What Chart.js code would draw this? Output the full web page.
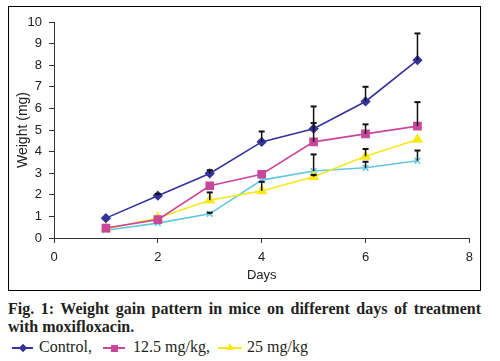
<!DOCTYPE html>
<html>
<head>
<meta charset="utf-8">
<script src="https://cdn.jsdelivr.net/npm/chart.js@4.4.0/dist/chart.umd.min.js"></script>
<style>
  body { margin: 0; background: #fff; width: 500px; height: 361px; overflow: hidden; position: relative; }
  #box { position: absolute; left: 8px; top: 6px; width: 471px; height: 283px; border: 1px solid #000; }
  #caption { position: absolute; left: 8px; top: 300px; width: 473px; font-family: "Liberation Serif", serif;
             font-weight: bold; font-size: 16px; line-height: 18px; color: #231f20; }
  #caption .l1 { display: block; text-align: justify; text-align-last: justify; }
  .leg { position: absolute; top: 338px; font-family: "Liberation Serif", serif; font-size: 16px; color: #231f20; white-space: nowrap; }
  .mk { position: absolute; height: 2px; top: 347px; }
  .mk i { position: absolute; left: 50%; top: 50%; display: block; }
</style>
</head>
<body>
<div id="box"><canvas id="chart" width="471" height="283"></canvas></div>
<div id="caption">
  <span class="l1">Fig. 1: Weight gain pattern in mice on different days of treatment</span>
  <span>with moxifloxacin.</span>
</div>
<div class="mk" style="left:12px;width:21px;background:#333399"><i style="width:6px;height:6px;margin:-3px 0 0 -3px;background:#333399;transform:rotate(45deg)"></i></div>
<div class="leg" style="left:39px">Control,</div>
<div class="mk" style="left:103px;width:22px;background:#c9479b"><i style="width:7px;height:7px;margin:-3.5px 0 0 -3.5px;background:#c9479b"></i></div>
<div class="leg" style="left:133px">12.5 mg/kg,</div>
<div class="mk" style="left:218px;width:24px;background:#f7e81c"><i style="width:0;height:0;margin:-5px 0 0 -4px;border-left:4px solid transparent;border-right:4px solid transparent;border-bottom:7px solid #f7e81c"></i></div>
<div class="leg" style="left:247px">25 mg/kg</div>
<script>
const days = [1, 2, 3, 4, 5, 6, 7];
const xTicks = [0, 2, 4, 6, 8];

const control = [0.92, 1.96, 2.99, 4.45, 5.06, 6.32, 8.23];
const controlErr = [0, 0.08, 0.15, 0.48, 1.03, 0.68, 1.24];

const dose125 = [0.46, 0.85, 2.42, 2.95, 4.45, 4.82, 5.18];
const dose125Err = [0, 0, 0, 0, 0.87, 0.44, 1.11];

const dose25 = [0.42, 0.93, 1.75, 2.18, 2.84, 3.78, 4.56];
const dose25Err = [0, 0, 0.36, 0.42, 0.08, 0.34, 0];

const dose50 = [0.36, 0.69, 1.12, 2.68, 3.1, 3.25, 3.58];
const dose50Err = [0, 0, 0.05, 0, 0.77, 0.28, 0.47];

const seriesVals = [control, dose125, dose25, dose50];
const seriesErr = [controlErr, dose125Err, dose25Err, dose50Err];

const toXY = vals => vals.map((v, i) => ({ x: days[i], y: v }));

// upward-only error bars, drawn with the chart's scales
const errorBars = {
  id: 'errorBars',
  afterDatasetsDraw(chart) {
    const { ctx, scales: { x, y } } = chart;
    ctx.save();
    ctx.strokeStyle = '#111';
    seriesErr.forEach((errs, i) => {
      errs.forEach((e, j) => {
        if (!e) return;
        const px = x.getPixelForValue(days[j]);
        const y0 = y.getPixelForValue(seriesVals[i][j]);
        const y1 = y.getPixelForValue(seriesVals[i][j] + e);
        ctx.lineWidth = 1.5;
        ctx.beginPath();
        ctx.moveTo(px, y0);
        ctx.lineTo(px, y1);
        ctx.stroke();
        ctx.lineWidth = 2;
        ctx.beginPath();
        ctx.moveTo(px - 3, y1);
        ctx.lineTo(px + 3, y1);
        ctx.stroke();
      });
    });
    ctx.restore();
  }
};

const tickFont = { family: 'Liberation Sans, Arial, sans-serif', size: 13 };

new Chart(document.getElementById('chart'), {
  type: 'line',
  data: {
    datasets: [
      { label: 'Control', data: toXY(control), borderColor: '#333399', backgroundColor: '#333399',
        pointStyle: 'rectRot', pointRadius: 4, borderWidth: 1.6 },
      { label: '12.5 mg/kg', data: toXY(dose125), borderColor: '#c9479b', backgroundColor: '#c9479b',
        pointStyle: 'rect', pointRadius: 5, borderWidth: 1.6 },
      { label: '25 mg/kg', data: toXY(dose25), borderColor: '#f7e81c', backgroundColor: '#f7e81c',
        pointStyle: 'triangle', pointRadius: 5, borderWidth: 1.6 },
      { label: '50 mg/kg', data: toXY(dose50), borderColor: '#62c6e0', backgroundColor: '#62c6e0',
        pointStyle: 'crossRot', pointRadius: 4, borderWidth: 1.6 }
    ]
  },
  options: {
    responsive: false,
    animation: false,
    layout: { padding: { top: 15, right: 8, left: 0, bottom: 0 } },
    plugins: { legend: { display: false }, tooltip: { enabled: false } },
    scales: {
      x: {
        type: 'linear', min: 0, max: 8,
        afterBuildTicks: s => { s.ticks = xTicks.map(v => ({ value: v })); },
        afterFit: s => { s.height = 52; },
        grid: { drawOnChartArea: false, tickLength: 5, color: '#333' },
        border: { color: '#333' },
        ticks: { font: tickFont, color: '#222', padding: 7, maxRotation: 0 },
        title: { display: true, text: 'Days', font: tickFont, color: '#222', padding: { top: 0, bottom: 7 } }
      },
      y: {
        min: 0, max: 10,
        ticks: { stepSize: 1, font: tickFont, color: '#222', padding: 7 },
        afterFit: s => { s.width = 45; },
        grid: { drawOnChartArea: false, tickLength: 5, color: '#333' },
        border: { color: '#333' },
        title: { display: true, text: 'Weight (mg)', font: { family: 'Liberation Sans, Arial, sans-serif', size: 14 },
                 color: '#222', padding: { top: 6, bottom: 0 } }
      }
    }
  },
  plugins: [errorBars]
});
</script>
</body>
</html>
